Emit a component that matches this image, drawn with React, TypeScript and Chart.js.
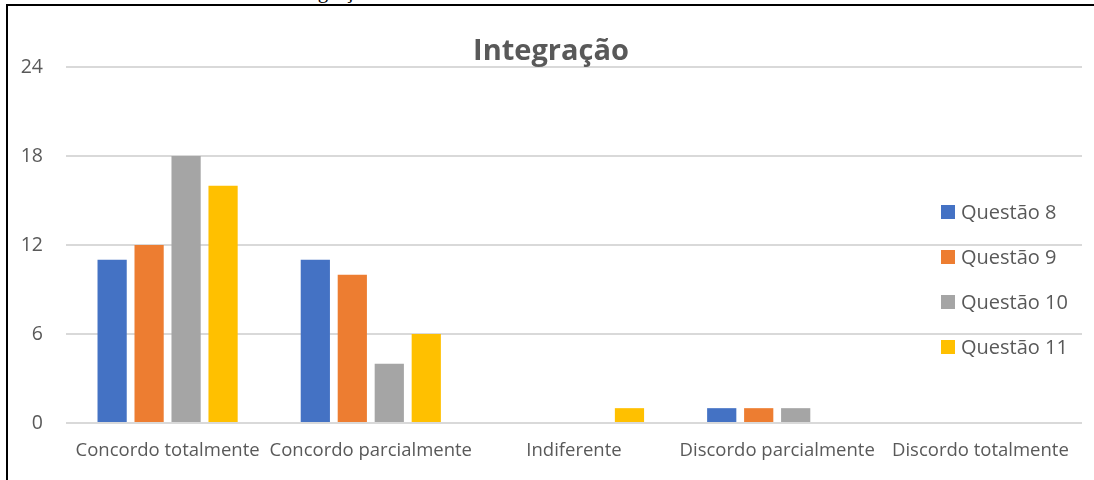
import React, { useEffect, useRef } from "react";
import { Chart, registerables } from "chart.js";

Chart.register(...registerables);

const categories = [
  "Concordo totalmente",
  "Concordo parcialmente",
  "Indiferente",
  "Discordo parcialmente",
  "Discordo totalmente",
];
const seriesNames = ["Questão 8", "Questão 9", "Questão 10", "Questão 11"];
const q8 = [11, 11, 0, 1, 0];
const q9 = [12, 10, 0, 1, 0];
const q10 = [18, 4, 0, 1, 0];
const q11 = [16, 6, 1, 0, 0];
const yMin = 0;
const yMax = 24;
const yStep = 6;
const colors = ["#4472C4", "#ED7D31", "#A5A5A5", "#FFC000"];
const chartTitle = "Integração";

const TEXT = "#595959";
const FONT = "'Open Sans', 'Noto Sans', sans-serif";

const overlayPlugin = {
  id: "overlay",
  afterDraw(chart: any) {
    const ctx = chart.ctx;
    ctx.save();
    ctx.fillStyle = TEXT;
    ctx.font = `bold 29px ${FONT}`;
    ctx.textAlign = "center";
    ctx.textBaseline = "alphabetic";
    ctx.fillText(chartTitle, 551, 60);

    ctx.font = `20px ${FONT}`;
    ctx.textAlign = "left";
    ctx.textBaseline = "middle";
    chart.data.datasets.forEach((ds: any, i: number) => {
      const cy = 212 + i * 45;
      ctx.fillStyle = ds.backgroundColor;
      ctx.fillRect(941, cy - 7, 14, 14);
      ctx.fillStyle = TEXT;
      ctx.fillText(ds.label, 961, cy + 1);
    });
    ctx.restore();
  },
};

export default function App() {
  const ref = useRef<HTMLCanvasElement | null>(null);

  useEffect(() => {
    document.body.style.margin = "0";
    if (!ref.current) return;
    const series = [q8, q9, q10, q11];
    const chart = new Chart(ref.current, {
      type: "bar",
      data: {
        labels: categories,
        datasets: series.map((d, i) => ({
          label: seriesNames[i],
          data: d,
          backgroundColor: colors[i],
          borderWidth: 0,
          barPercentage: 0.79,
          categoryPercentage: 0.728,
        })),
      },
      options: {
        animation: false,
        responsive: false,
        maintainAspectRatio: false,
        layout: { padding: { top: 67, right: 12, bottom: 0, left: 0 } },
        plugins: {
          legend: { display: false },
          title: { display: false },
          tooltip: { enabled: false },
        },
        scales: {
          x: {
            grid: { display: false, drawTicks: false },
            border: { display: false },
            ticks: {
              color: TEXT,
              font: { family: FONT, size: 18.5 },
              padding: 17,
              maxRotation: 0,
              autoSkip: false,
            },
            afterFit: (s: any) => {
              s.height = 57;
            },
          },
          y: {
            min: yMin,
            max: yMax,
            grid: { color: "#D9D9D9", lineWidth: 2, drawTicks: false },
            border: { display: false },
            ticks: {
              stepSize: yStep,
              color: TEXT,
              font: { family: FONT, size: 19.5 },
              padding: 23,
            },
            afterFit: (s: any) => {
              s.width = 66;
            },
          },
        },
      },
      plugins: [overlayPlugin],
    });
    return () => chart.destroy();
  }, []);

  return (
    <div
      style={{
        position: "fixed",
        left: 0,
        top: 0,
        width: 1094,
        height: 480,
        overflow: "hidden",
        background: "#fff",
      }}
    >
      <div
        style={{
          position: "absolute",
          left: 285,
          top: -19,
          fontFamily: "'Liberation Serif', serif",
          fontSize: 21,
          lineHeight: "20px",
          color: "#000",
          whiteSpace: "nowrap",
        }}
      >
        Integração
      </div>
      <canvas ref={ref} width={1094} height={480} style={{ position: "absolute", left: 0, top: 0 }} />
      <div
        style={{
          position: "absolute",
          left: 6,
          top: 4,
          width: 2000,
          height: 2000,
          borderLeft: "2px solid #000",
          borderTop: "2px solid #000",
          pointerEvents: "none",
        }}
      />
    </div>
  );
}
